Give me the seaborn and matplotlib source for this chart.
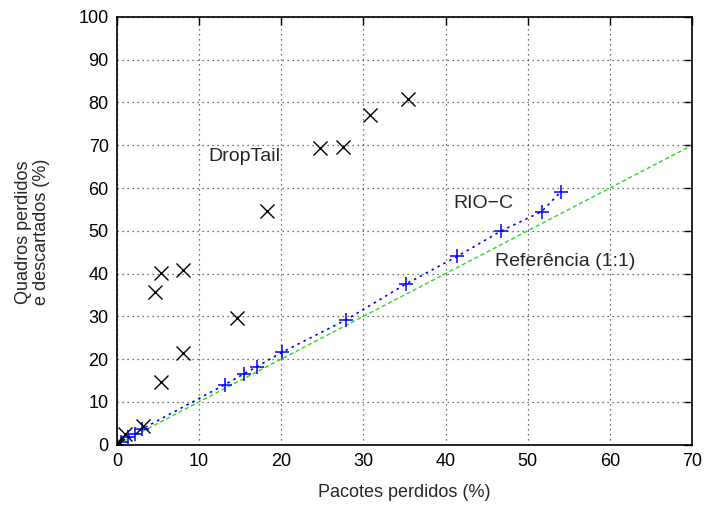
import matplotlib
matplotlib.use("Agg")
import matplotlib.pyplot as plt
import seaborn as sns
import pandas as pd

# DropTail measurements: packet loss vs. lost+discarded frames (%)
droptail_x = [0.0, 0.1, 1.0, 3.2, 5.3, 4.6, 5.4, 8.0, 8.0, 14.6, 18.3, 24.7, 27.5, 30.8, 35.4]
droptail_y = [0.0, 0.6, 2.4, 4.3, 14.7, 35.6, 40.2, 40.9, 21.5, 29.5, 54.6, 69.4, 69.7, 77.0, 80.8]

# RIO-C measurements
rioc_x = [0.0, 0.5, 1.3, 2.2, 3.0, 13.1, 15.4, 17.0, 20.1, 27.9, 35.2, 41.4, 46.8, 51.7, 54.0]
rioc_y = [0.0, 0.7, 1.8, 2.5, 3.6, 14.0, 16.5, 18.2, 21.6, 29.2, 37.6, 44.0, 50.0, 54.5, 59.1]

# 1:1 reference
ref_x = [0, 70]
ref_y = [0, 70]

x_ticks = [0, 10, 20, 30, 40, 50, 60, 70]
y_ticks = [0, 10, 20, 30, 40, 50, 60, 70, 80, 90, 100]

sns.set_style("white")
plt.rcParams["font.family"] = ["Liberation Sans", "DejaVu Sans"]
plt.rcParams["font.size"] = 13

fig = plt.figure(figsize=(7.05, 5.05), dpi=100)
ax = fig.add_axes([0.166, 0.1196, 0.8156, 0.8468])

dt = pd.DataFrame({"x": droptail_x, "y": droptail_y})
rc = pd.DataFrame({"x": rioc_x, "y": rioc_y})
rf = pd.DataFrame({"x": ref_x, "y": ref_y})

sns.lineplot(data=rf, x="x", y="y", ax=ax, color="#22dd22", lw=1.0,
             linestyle=(0, (3, 2)), sort=False)
sns.lineplot(data=rc, x="x", y="y", ax=ax, color="#0000ff", lw=1.2,
             linestyle=(0, (1.5, 2.5)), sort=False)
ax.plot(rc["x"], rc["y"], ls="none", marker="+", ms=10, mew=1.1, color="#0000ff")
ax.plot(dt["x"], dt["y"], ls="none", marker="x", ms=10, mew=1.0, color="black")

ax.set_xlim(0, 70)
ax.set_ylim(0, 100)
ax.set_xticks(x_ticks)
ax.set_yticks(y_ticks)
ax.grid(True, color="#444444", linestyle=(0, (1, 3)), lw=0.9)
ax.set_axisbelow(True)
for s in ax.spines.values():
    s.set_color("black")
    s.set_linewidth(1.2)
ax.tick_params(direction="in", length=6, width=1, top=True, right=True,
               labelsize=13, colors="black", pad=6)

ax.set_xlabel("Pacotes perdidos (%)", fontsize=13, labelpad=10)
ax.set_ylabel("Quadros perdidos\ne descartados (%)", fontsize=13,
              multialignment="center", linespacing=1.05)
ax.yaxis.set_label_coords(-0.117, 0.497)

ax.text(11.1, 67.3, "DropTail", fontsize=14, va="center", ha="left")
ax.text(40.9, 56.3, "RIO\u2212C", fontsize=14, va="center", ha="left")
ax.text(46.0, 42.8, "Referência (1:1)", fontsize=14, va="center", ha="left")

fig.savefig("out.png", dpi=100)
